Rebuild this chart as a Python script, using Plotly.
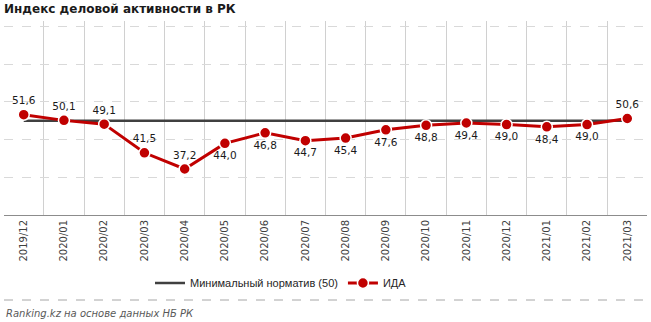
import plotly.graph_objects as go

categories = ["2019/12", "2020/01", "2020/02", "2020/03", "2020/04", "2020/05", "2020/06",
              "2020/07", "2020/08", "2020/09", "2020/10", "2020/11", "2020/12",
              "2021/01", "2021/02", "2021/03"]
ida_values = [51.6, 50.1, 49.1, 41.5, 37.2, 44.0, 46.8, 44.7, 45.4, 47.6, 48.8, 49.4, 49.0, 48.4, 49.0, 50.6]
label_pos = ["top center"] * 5 + ["bottom center"] * 10 + ["top center"]
norm_value = 50
norm_values = [norm_value] * len(categories)

labels = [f"{v:.1f}".replace(".", ",") for v in ida_values]

W, H = 651, 322
ml, mr, mt, mb = 4, 4, 21, 107
ph = H - mt - mb
pw = W - ml - mr

fig = go.Figure()
fig.add_trace(go.Scatter(
    x=categories, y=norm_values, mode="lines", name="Минимальный норматив (50)",
    line=dict(color="#404040", width=2.5), hoverinfo="skip"))
fig.add_trace(go.Scatter(
    x=categories, y=ida_values, mode="lines+markers+text", name="ИДА",
    line=dict(color="#c00000", width=3),
    marker=dict(size=11, color="#c00000", line=dict(color="white", width=1.5)),
    text=labels, textposition=label_pos,
    textfont=dict(family="DejaVu Sans", size=10.5, color="#1a1a1a")))

fig.update_layout(
    width=W, height=H,
    margin=dict(l=ml, r=mr, t=mt, b=mb),
    paper_bgcolor="white", plot_bgcolor="white",
    font=dict(family="DejaVu Sans", color="#262626"),
    title=dict(text="<b>Индекс деловой активности в РК</b>", x=4 / W, xanchor="left",
               xref="container", yref="container", y=1 - 9 / H, yanchor="middle",
               font=dict(family="DejaVu Sans", size=12, color="#1a1a1a")),
    showlegend=True,
    legend=dict(orientation="h", x=(150 - ml) / pw, xanchor="left", y=(215 - 283) / ph,
                yanchor="middle",
                font=dict(family="Liberation Sans", size=11, color="#262626"),
                bgcolor="rgba(0,0,0,0)", itemwidth=30),
    xaxis=dict(type="category", tickson="boundaries", range=[-0.49, 15.49],
               showgrid=True, gridcolor="#d0d0d0", gridwidth=1,
               showline=True, linecolor="#8c8c8c", linewidth=1,
               ticks="", tickangle=-90, tickfont=dict(size=10, color="#404040"),
               fixedrange=True),
    yaxis=dict(range=[25, 25 + ph / 3.77], tick0=25, dtick=10, showgrid=True,
               gridcolor="#d9d9d9", griddash="dash", gridwidth=1,
               showticklabels=False, zeroline=False, showline=False, fixedrange=True),
)

# separator dashed line and source note
fig.add_shape(type="line", xref="paper", yref="paper", x0=0, x1=1,
              y0=(215 - 300) / ph, y1=(215 - 300) / ph,
              line=dict(color="#a6a6a6", width=1, dash="dash"))
fig.add_annotation(text="<i>Ranking.kz на основе данных НБ РК</i>", xref="paper", yref="paper",
                   x=0, xanchor="left", y=(215 - 313) / ph, yanchor="middle", showarrow=False,
                   font=dict(size=10, color="#595959"))

fig.write_html("out.html")
